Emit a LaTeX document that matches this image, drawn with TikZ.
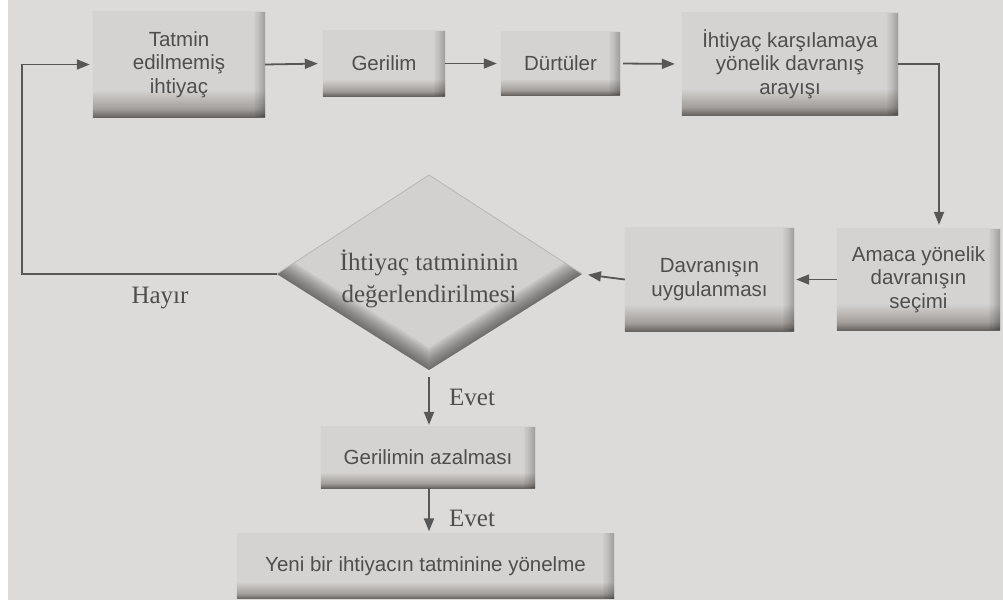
\documentclass[tikz,border=0pt]{standalone}
\usepackage{fontspec}
\setmainfont{Liberation Serif}
\setsansfont{Liberation Sans}
\usetikzlibrary{arrows.meta,backgrounds,calc}

\definecolor{paper}{HTML}{DCDBD9}
\definecolor{boxtop}{HTML}{D5D3D1}
\definecolor{boxmid}{HTML}{A29E9B}
\definecolor{boxdark}{HTML}{66625F}
\definecolor{diafill}{HTML}{D3D1CF}
\definecolor{ink}{HTML}{4E4E4E}
\definecolor{linec}{HTML}{575757}

% light face with a dark bevel along the bottom edge
% (only the band from 25bp to 75bp is mapped onto the path)
\pgfdeclareverticalshading{boxshade}{100bp}{color(0bp)=(boxdark); color(25bp)=(boxdark); color(29bp)=(boxmid); color(38bp)=(boxtop); color(100bp)=(boxtop)}

\begin{document}
\begin{tikzpicture}[x=1pt,y=-1pt,
  box/.style={align=center, font=\sffamily\fontsize{20.5}{23.5}\selectfont, text=ink, inner sep=0pt},
  lbl/.style={font=\rmfamily\fontsize{25}{32}\selectfont, text=ink, inner sep=0pt},
  conn/.style={draw=linec, line width=1.8pt, -{Triangle[length=13pt,width=10pt]}},
]
\useasboundingbox (0,0) rectangle (1003,605);

% process boxes
\node[box, minimum width=172pt, minimum height=105pt] (tatmin) at (179,64.5) {Tatmin\\edilmemiş\\ihtiyaç};
\node[box, minimum width=122pt, minimum height=65pt] (gerilim) at (384,63.5) {Gerilim};
\node[box, minimum width=119pt, minimum height=63pt] (durtu) at (560.5,63.5) {Dürtüler};
\node[box, minimum width=216pt, minimum height=102pt] (arayis) at (790,64) {İhtiyaç karşılamaya\\yönelik davranış\\arayışı};
\node[box, minimum width=163pt, minimum height=101pt] (amaca) at (918.5,279.5) {Amaca yönelik\\davranışın\\seçimi};
\node[box, minimum width=169pt, minimum height=103pt] (uygula) at (709.5,279.5) {Davranışın\\uygulanması};
\node[box, minimum width=214pt, minimum height=61pt] (azalma) at (428,457.5) {Gerilimin azalması};
\node[box, minimum width=377pt, minimum height=65pt] (yeni) at (425.5,566) {Yeni bir ihtiyacın tatminine yönelme};

% decision
\coordinate (dl) at (277,274);
\coordinate (dr) at (582,274);
\coordinate (dt) at (429,175);
\coordinate (db) at (429,370);
\node[lbl, align=center] (eval) at (429,279) {İhtiyaç tatmininin\\değerlendirilmesi};

% labels
\node[lbl] (hayir) at (160,298) {Hayır};
\node[lbl, anchor=west] (evet1) at (449,397) {Evet};
\node[lbl, anchor=west] (evet2) at (449,518) {Evet};

% connectors
\coordinate (loopc) at (22,274);
\draw[conn, shorten >=3pt] (dl) -- (loopc) |- (tatmin.west);
\draw[conn, shorten >=5pt] (tatmin.east) -- (gerilim.west);
\draw[conn, shorten >=4pt] (gerilim.east) -- (durtu.west);
\draw[conn, shorten <=3pt, shorten >=7pt] (durtu.east) -- (arayis.west);
\draw[conn, shorten >=4pt] (arayis.east) -| ($(amaca.north)+(20.5,0)$);
\draw[conn, shorten >=2pt] (amaca.west) -- (uygula.east);
\draw[conn, shorten >=6pt] (uygula.west) -- (dr);
\draw[conn, shorten <=7pt, shorten >=2pt] (db) -- (db |- azalma.north);
\draw[conn, shorten >=2pt] (azalma.south -| db) -- (db |- yeni.north);

% paper and shaded faces
\begin{scope}[on background layer]
  \fill[paper] (0,0) rectangle (1003,605);
  \foreach \n in {tatmin,gerilim,durtu,arayis,amaca,uygula,azalma,yeni} {
    \shade[shading=boxshade] (\n.north west) rectangle (\n.south east);
    \begin{scope}
      \clip (\n.north west) rectangle (\n.south east);
      \foreach \k in {1,...,10}
        \draw[line width={\k*2.2pt}, black, opacity=0.022] (\n.north east) -- (\n.south east);
    \end{scope}
  }
  \fill[diafill] (dl) -- (dt) -- (dr) -- (db) -- cycle;
  \begin{scope}
    \clip (dl) -- (dt) -- (dr) -- (db) -- cycle;
    \foreach \k in {1,...,16}
      \draw[line width={\k*2.4pt}, black, opacity=0.035, line join=round] (dl) -- (db) -- (dr);
  \end{scope}
  \draw[line width=0.8pt, boxmid!60!paper] (dl) -- (dt) -- (dr);
  % photo border
  \fill[white] (0,0) rectangle (8,605);
  \fill[white] (0,600) rectangle (1003,605);
\end{scope}
\end{tikzpicture}
\end{document}
